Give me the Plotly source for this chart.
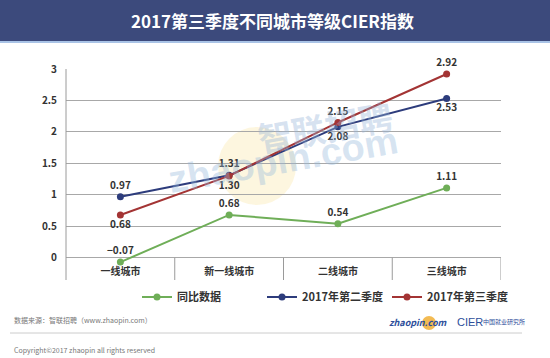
import plotly.graph_objects as go

categories = ["一线城市", "新一线城市", "二线城市", "三线城市"]
yoy = [-0.07, 0.68, 0.54, 1.11]
q2 = [0.97, 1.31, 2.08, 2.53]
q3 = [0.68, 1.30, 2.15, 2.92]
series_names = ["同比数据", "2017年第二季度", "2017年第三季度"]
y_ticks = [0, 0.5, 1, 1.5, 2, 2.5, 3]
y_ticktext = ["0", "0.5", "1", "1.5", "2", "2.5", "3"]

GREEN = "#6fae58"
BLUE = "#2d3c7c"
RED = "#a33434"
FONT = "Noto Sans CJK SC"

x = list(range(len(categories)))
fig = go.Figure()

def add(vals, name, color, positions):
    fig.add_trace(go.Scatter(
        x=x, y=vals, name=f"<b>{name}</b>", mode="lines+markers+text",
        line=dict(color=color, width=2),
        marker=dict(color=color, size=7),
        text=[f"<b>{v:.2f}</b>".replace("-", "−") for v in vals],
        textposition=positions,
        textfont=dict(family=FONT, size=10, color="#333333"),
        cliponaxis=False,
    ))

add(yoy, series_names[0], GREEN, ["top center"] * 4)
add(q2, series_names[1], BLUE, ["top center", "top center", "bottom center", "bottom center"])
add(q3, series_names[2], RED, ["bottom center", "bottom center", "top center", "top center"])

W, H = 550, 358
ML, MR, MT, MB = 66, 49, 69, 94
PW, PH = W - ML - MR, H - MT - MB
PB = H - MB

def px_x(p):
    return (p - ML) / PW

def px_y(p):
    return (PB - p) / PH

shapes = []
# title banner
shapes.append(dict(type="rect", xref="paper", yref="paper", x0=px_x(-2), x1=px_x(W + 2),
                   y0=px_y(41), y1=px_y(-2), fillcolor="#3c4a7c", line_width=0, layer="below"))
shapes.append(dict(type="line", xref="paper", yref="paper", x0=px_x(-2), x1=px_x(W + 2),
                   y0=px_y(42), y1=px_y(42), line=dict(color="#a9c3e6", width=2)))
# category frame lines
ybot = px_y(280)
ytop0 = px_y(257.7)
shapes.append(dict(type="line", xref="paper", yref="paper", x0=0, x1=0, y0=ybot, y1=1,
                   line=dict(color="#9a9a9a", width=1)))
for sx in [0.5, 1.5, 2.5, 3.5]:
    shapes.append(dict(type="line", xref="x", yref="paper", x0=sx, x1=sx, y0=ybot, y1=ytop0,
                       line=dict(color="#9a9a9a", width=1)))
# footer separator line
shapes.append(dict(type="line", xref="paper", yref="paper", x0=px_x(10), x1=px_x(522),
                   y0=px_y(333), y1=px_y(333), line=dict(color="#cccccc", width=1)))
# watermark glow and logo dot
shapes.append(dict(type="circle", xref="paper", yref="paper", layer="below",
                   x0=px_x(218), x1=px_x(296), y0=px_y(205), y1=px_y(127),
                   fillcolor="rgba(250,225,150,0.3)", line_width=0))
shapes.append(dict(type="circle", xref="paper", yref="paper",
                   x0=px_x(422), x1=px_x(436), y0=px_y(330), y1=px_y(316),
                   fillcolor="rgba(240,170,40,0.8)", line_width=0, layer="below"))

def ann(text, px, py, size, color, family=FONT, xanchor="center", angle=0):
    return dict(text=text, xref="paper", yref="paper", x=px_x(px), y=px_y(py),
                xanchor=xanchor, yanchor="middle", showarrow=False, textangle=angle,
                font=dict(family=family, size=size, color=color))

annotations = [
    ann("<b>2017第三季度不同城市等级CIER指数</b>", 272, 20, 17, "white"),
    ann("数据来源：智联招聘（www.zhaopin.com）", 12, 320, 7, "#777777", xanchor="left"),
    ann("Copyright©2017 zhaopin all rights reserved", 12, 350, 7, "#777777", xanchor="left"),
    ann("<b><i>zhaopin.com</i></b>", 450, 322, 9, "#2d4e9a", xanchor="right"),
    ann("CIER", 455, 322, 11, "#2d4e9a", family="Liberation Sans Narrow, Liberation Sans", xanchor="left"),
    ann("中国就业研究所", 481, 321, 6, "#2d4e9a", xanchor="left"),
    # watermark
    ann("<b>智联招聘</b>", 325, 126, 34, "rgba(150,180,215,0.38)", angle=-10),
    ann("<b>zhaopin.com</b>", 283, 160, 38, "rgba(150,185,220,0.38)", family="Liberation Sans", angle=-10),
]

fig.update_layout(
    width=W, height=H,
    margin=dict(l=ML, r=MR, t=MT, b=MB, autoexpand=False),
    paper_bgcolor="white", plot_bgcolor="white",
    font=dict(family=FONT, color="#333333"),
    showlegend=True,
    legend=dict(orientation="h", xref="container", yref="container",
                x=137 / W, y=(H - 297) / H, xanchor="left", yanchor="middle",
                font=dict(family=FONT, size=11, color="#333333"), entrywidth=80,
                bgcolor="rgba(0,0,0,0)"),
    xaxis=dict(range=[-0.5, 3.5], tickvals=x, ticktext=[f"<b>{c}</b>" for c in categories],
               showgrid=False, zeroline=False, showline=False, ticks="",
               tickfont=dict(family=FONT, size=10, color="#333333"), fixedrange=True),
    yaxis=dict(range=[-0.1, 3], tickvals=y_ticks, ticktext=[f"<b>{t}</b>" for t in y_ticktext],
               showgrid=True, gridcolor="#a8a8a8", gridwidth=1, zeroline=False,
               showline=False, ticks="", ticklabelstandoff=8,
               tickfont=dict(family=FONT, size=10, color="#333333"), fixedrange=True),
    shapes=shapes,
    annotations=annotations,
)

fig.write_html("out.html", config={"displayModeBar": False},
               post_script="document.body.style.margin='0';")
